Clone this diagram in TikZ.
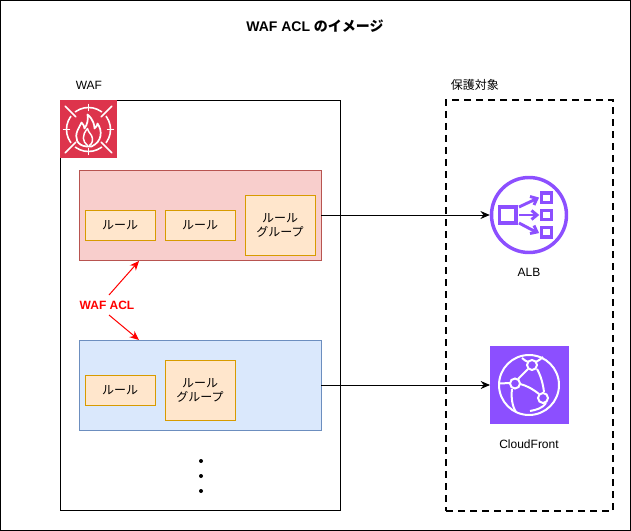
\documentclass[tikz,border=0pt]{standalone}
\usepackage{fontspec}
\setmainfont{Liberation Sans}
\newfontfamily\jpfont{Noto Sans CJK JP}
\usetikzlibrary{arrows.meta}
\definecolor{redfill}{HTML}{F8CECC}
\definecolor{redline}{HTML}{B85450}
\definecolor{bluefill}{HTML}{DAE8FC}
\definecolor{blueline}{HTML}{6C8EBF}
\definecolor{rulefill}{HTML}{FFE6CC}
\definecolor{ruleline}{HTML}{D79B00}
\definecolor{wafred}{HTML}{DD344C}
\definecolor{awspurple}{HTML}{8C4FFF}
\tikzset{
  panel/.style={draw=#1,line width=0.75pt,anchor=north west,inner sep=0pt,outer sep=0pt},
  rulebox/.style={draw=ruleline,fill=rulefill,line width=0.75pt,align=center,font=\fontsize{9}{10.5}\selectfont\jpfont,inner sep=0pt,outer sep=0pt,anchor=north west},
  lbl/.style={font=\fontsize{9}{11}\selectfont,inner sep=0pt},
  link/.style={draw=black,line width=0.75pt,-{Stealth[length=7pt,width=6pt]}},
  redlink/.style={draw=red,line width=0.75pt,-{Stealth[length=7pt,width=6pt]}},
  icon/.style={line width=1.5pt,draw=white,line cap=round},
  albline/.style={line width=2.4pt,draw=awspurple},
  albarrow/.style={line width=2.2pt,draw=awspurple},
  cfline/.style={draw=white,line width=1.5pt},
}
\begin{document}
\begin{tikzpicture}[x=0.75pt,y=-0.75pt]
\useasboundingbox (0,0) rectangle (631,531);
\draw[black,line width=0.75pt] (0.5,0.5) rectangle (630.5,530.5);
\node[font=\fontsize{10.5}{12}\selectfont\bfseries,inner sep=0pt] (title) at (315,26) {WAF ACL {\jpfont\bfseries のイメージ}};
% WAF
\node[panel=black,minimum width=280*0.75pt,minimum height=410*0.75pt] (waf) at (60.5,100.5) {};
\node[lbl,anchor=west] (waflabel) at (75.5,85) {WAF};
\fill[wafred] (60,100) rectangle (117,158);
% WAF icon
\begin{scope}[shift={(88.5,129.5)}]
\draw[icon,line width=1.2pt] (0,0) circle (22);
\foreach \a in {0,90,180,270} \draw[icon,line width=1.1pt] (\a:19) -- (\a:25);
\foreach \a in {45,135,225,315} {\draw[wafred,line width=4pt] (\a:16) -- (\a:28); \draw[icon,line width=1.2pt] (\a:18) -- (\a:33);}
\draw[icon,line width=1.3pt,line join=round] (-2,17) .. controls (-12,16) and (-14,8) .. (-11,1) .. controls (-10,-2) and (-8,-4) .. (-7,-7) .. controls (-5,-5) and (-4,-3) .. (-4,-1) .. controls (-1,-5) and (0,-11) .. (-1,-15) .. controls (5,-10) and (6,-4) .. (6,-1) .. controls (8,-3) and (9,-4) .. (9,-6) .. controls (14,1) and (14,12) .. (3,17) -- cycle;
\draw[icon,line width=1.1pt,line join=round] (-1,16) .. controls (-6,12) and (-7,6) .. (-1,-1) .. controls (0,3) and (2,4) .. (3,6) .. controls (5,10) and (4,14) .. (1,16);
\end{scope}
% ACL panels
\node[panel=redline,fill=redfill,minimum width=242*0.75pt,minimum height=90*0.75pt] (redacl) at (79,170) {};
\node[panel=blueline,fill=bluefill,minimum width=242*0.75pt,minimum height=90*0.75pt] (blueacl) at (79,340) {};
\node[rulebox,minimum width=70*0.75pt,minimum height=30*0.75pt] (r1) at (85,210) {ルール};
\node[rulebox,minimum width=70*0.75pt,minimum height=30*0.75pt] (r2) at (165,210) {ルール};
\node[rulebox,minimum width=70*0.75pt,minimum height=60*0.75pt] (g1) at (245,195) {ルール\\グループ};
\node[rulebox,minimum width=70*0.75pt,minimum height=30*0.75pt] (r3) at (85,375) {ルール};
\node[rulebox,minimum width=70*0.75pt,minimum height=60*0.75pt] (g2) at (165,360) {ルール\\グループ};
% dots
\foreach \y/\n in {461/a,476/b,491/c} \fill[black] (201,\y) circle (2) coordinate (dot\n);
% label
\node[font=\fontsize{9}{11}\selectfont\bfseries,text=red,inner sep=0pt] (acl) at (107,305) {WAF ACL};
\coordinate (aclup) at (109,295);
\coordinate (acldown) at (109,315);
\coordinate (redtip) at (139,261);
\coordinate (bluetip) at (139,340);
\draw[redlink] (aclup) -- (redtip);
\draw[redlink] (acldown) -- (bluetip);
% targets
\node[draw=black,line width=1.5pt,dash pattern=on 5.25pt off 3.75pt,anchor=north west,inner sep=0pt,outer sep=0pt,minimum width=167*0.75pt,minimum height=411*0.75pt] (target) at (446,100) {};
\node[lbl,anchor=west,font=\fontsize{9}{11}\selectfont\jpfont] (targetlabel) at (450.5,85) {保護対象};
% ALB
\node[circle,draw=awspurple,line width=2.6pt,minimum size=75*0.75pt,inner sep=0pt] (alb) at (529,215) {};
\draw[albline] (499.5,207) rectangle (516,223);
\draw[albline] (541.5,193) rectangle (551.5,202.5);
\draw[albline] (541.5,210.5) rectangle (551.5,219.5);
\draw[albline] (541.5,227.5) rectangle (551.5,237);
\draw[albarrow] (519,207) -- (536,199);
\draw[albarrow] (530,196.5) -- (537,198.5) -- (534,205);
\draw[albarrow] (519,215) -- (537,215);
\draw[albarrow] (531.5,210.5) -- (537,215) -- (531.5,219.5);
\draw[albarrow] (519,223) -- (536,232);
\draw[albarrow] (534,225.5) -- (537,232) -- (530,233.5);
\node[lbl] (alblabel) at (529,272) {ALB};
% CloudFront
\node[fill=awspurple,anchor=north west,inner sep=0pt,outer sep=0pt,minimum width=79*0.75pt,minimum height=78*0.75pt] (cf) at (490,346) {};
\draw[cfline] (529,385) circle (30);
\draw[cfline] (499.5,383.5) -- (510,383);
\draw[cfline] (512,389) .. controls (511,397) and (512,406) .. (516,412);
\draw[cfline] (518,379) -- (528,369);
\draw[cfline] (520,384) .. controls (528,386) and (534,390) .. (539,394);
\draw[cfline] (537,369) .. controls (541,376) and (543,384) .. (544,392);
\draw[cfline] (522,358) .. controls (524,360) and (526,361) .. (528,362);
\draw[cfline] (536,362) .. controls (539,360) and (541,359) .. (543,357);
\draw[cfline] (530,411) .. controls (536,410) and (543,408) .. (546,403);
\draw[cfline] (532,365) circle (5);
\draw[cfline] (515,383.5) circle (5);
\draw[cfline] (543,398) circle (5);
\node[lbl] (cflabel) at (529,444) {CloudFront};
% connectors
\draw[link] (redacl.east) -- (alb.west);
\draw[link] (blueacl.east) -- (cf.west);
\end{tikzpicture}
\end{document}
